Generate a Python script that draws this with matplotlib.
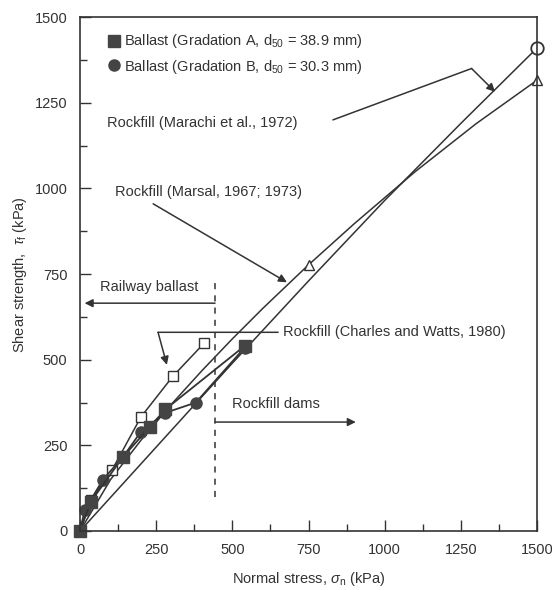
import matplotlib.pyplot as plt
from matplotlib.ticker import MultipleLocator

plt.rcParams['font.family'] = ['Liberation Sans', 'DejaVu Sans']
plt.rcParams['mathtext.fontset'] = 'custom'
plt.rcParams['mathtext.rm'] = 'Liberation Sans'
plt.rcParams['mathtext.it'] = 'Liberation Sans:italic'

ink = "#333333"

# Ballast, gradation A (filled squares)
a_sigma = [0, 35, 140, 230, 280, 540]
a_tau = [0, 85, 215, 305, 355, 540]

# Ballast, gradation B (filled circles)
b_sigma = [0, 15, 75, 140, 200, 280, 380, 540]
b_tau = [0, 60, 150, 215, 290, 345, 375, 535]

# Rockfill, Charles and Watts (1980) (open squares)
cw_sigma = [0, 35, 105, 200, 305, 407]
cw_tau = [0, 90, 178, 333, 452, 548]

# Rockfill, Marsal (1967; 1973) - curve ending with triangle
marsal_sigma = [0, 100, 200, 300, 400, 500, 600, 750, 900, 1100, 1300, 1500]
marsal_tau = [0, 150, 265, 370, 468, 561, 650, 777, 897, 1049, 1189, 1316]

# Rockfill, Marachi et al. (1972) - line ending with circle
marachi_sigma = [0, 250, 500, 750, 1000, 1250, 1500]
marachi_tau = [0, 245, 490, 730, 965, 1190, 1410]

fig = plt.figure(figsize=(5.52, 5.90), dpi=100)
ax = fig.add_axes([0.145, 0.1, 0.828, 0.871])

ax.plot(marsal_sigma, marsal_tau, color=ink, lw=1.1)
ax.plot([marsal_sigma[7], marsal_sigma[-1]], [marsal_tau[7], marsal_tau[-1]], ls="none",
        marker="^", ms=7, mfc="white", mec=ink, clip_on=False)
ax.plot(marachi_sigma, marachi_tau, color=ink, lw=1.1)
ax.plot([marachi_sigma[-1]], [marachi_tau[-1]], ls="none", marker="o", ms=9,
        mfc="white", mec=ink, mew=1.3, clip_on=False)

ax.plot(cw_sigma, cw_tau, color=ink, lw=1.1, marker="s", ms=7, mfc="white",
        mec=ink, clip_on=False)
ax.plot(b_sigma, b_tau, color=ink, lw=1.3, marker="o", ms=8, mfc="#444444",
        mec="#444444", clip_on=False)
ax.plot(a_sigma, a_tau, color=ink, lw=1.3, marker="s", ms=8, mfc="#444444",
        mec="#444444", clip_on=False)

ax.set_xlim(0, 1500)
ax.set_ylim(0, 1500)
ax.xaxis.set_major_locator(MultipleLocator(250))
ax.xaxis.set_minor_locator(MultipleLocator(125))
ax.yaxis.set_major_locator(MultipleLocator(250))
ax.yaxis.set_minor_locator(MultipleLocator(125))
ax.tick_params(which="both", direction="in", colors=ink, labelsize=10.5, width=1, pad=9)
ax.tick_params(which="major", length=8)
ax.tick_params(which="minor", length=5)
for s in ax.spines.values():
    s.set_color(ink)
    s.set_linewidth(1.2)

ax.set_xlabel("Normal stress, $\\sigma_{\\rm n}$ (kPa)", color=ink, fontsize=10.5, labelpad=9)
ax.set_ylabel("Shear strength,  $\\tau_{\\rm f}$ (kPa)", color=ink, fontsize=10.5, labelpad=4)

# legend-like entries
ax.plot([110], [1430], ls="none", marker="s", ms=8, color="#444444")
ax.text(145, 1430, "Ballast (Gradation A, d$_{50}$ = 38.9 mm)", color=ink,
        fontsize=10.5, va="center")
ax.plot([110], [1360], ls="none", marker="o", ms=8, color="#444444")
ax.text(145, 1355, "Ballast (Gradation B, d$_{50}$ = 30.3 mm)", color=ink,
        fontsize=10.5, va="center")

arrow = dict(arrowstyle="-|>", color=ink, lw=1.1, mutation_scale=12, shrinkA=0, shrinkB=0)
line = dict(arrowstyle="-", color=ink, lw=1.1, shrinkA=0, shrinkB=0)

ax.text(90, 1190, "Rockfill (Marachi et al., 1972)", color=ink, fontsize=10.5, va="center")
ax.annotate("", xy=(1285, 1350), xytext=(830, 1200), arrowprops=line)
ax.annotate("", xy=(1362, 1282), xytext=(1285, 1350), arrowprops=arrow)

ax.text(115, 990, "Rockfill (Marsal, 1967; 1973)", color=ink, fontsize=10.5, va="center")
ax.annotate("", xy=(679, 726), xytext=(240, 955), arrowprops=arrow)

ax.axvline(443, ymin=99 / 1500, ymax=738 / 1500, color=ink, lw=1.1, ls=(0, (4, 4)))
ax.text(65, 713, "Railway ballast", color=ink, fontsize=10.5, va="center")
ax.annotate("", xy=(15, 665), xytext=(443, 665), arrowprops=arrow)

ax.text(500, 372, "Rockfill dams", color=ink, fontsize=10.5, va="center")
ax.annotate("", xy=(905, 318), xytext=(443, 318), arrowprops=arrow)

ax.text(665, 580, "Rockfill (Charles and Watts, 1980)", color=ink, fontsize=10.5, va="center")
ax.annotate("", xy=(256, 580), xytext=(650, 580), arrowprops=line)
ax.annotate("", xy=(285, 485), xytext=(256, 580), arrowprops=arrow)

fig.savefig("out.png", dpi=100)
